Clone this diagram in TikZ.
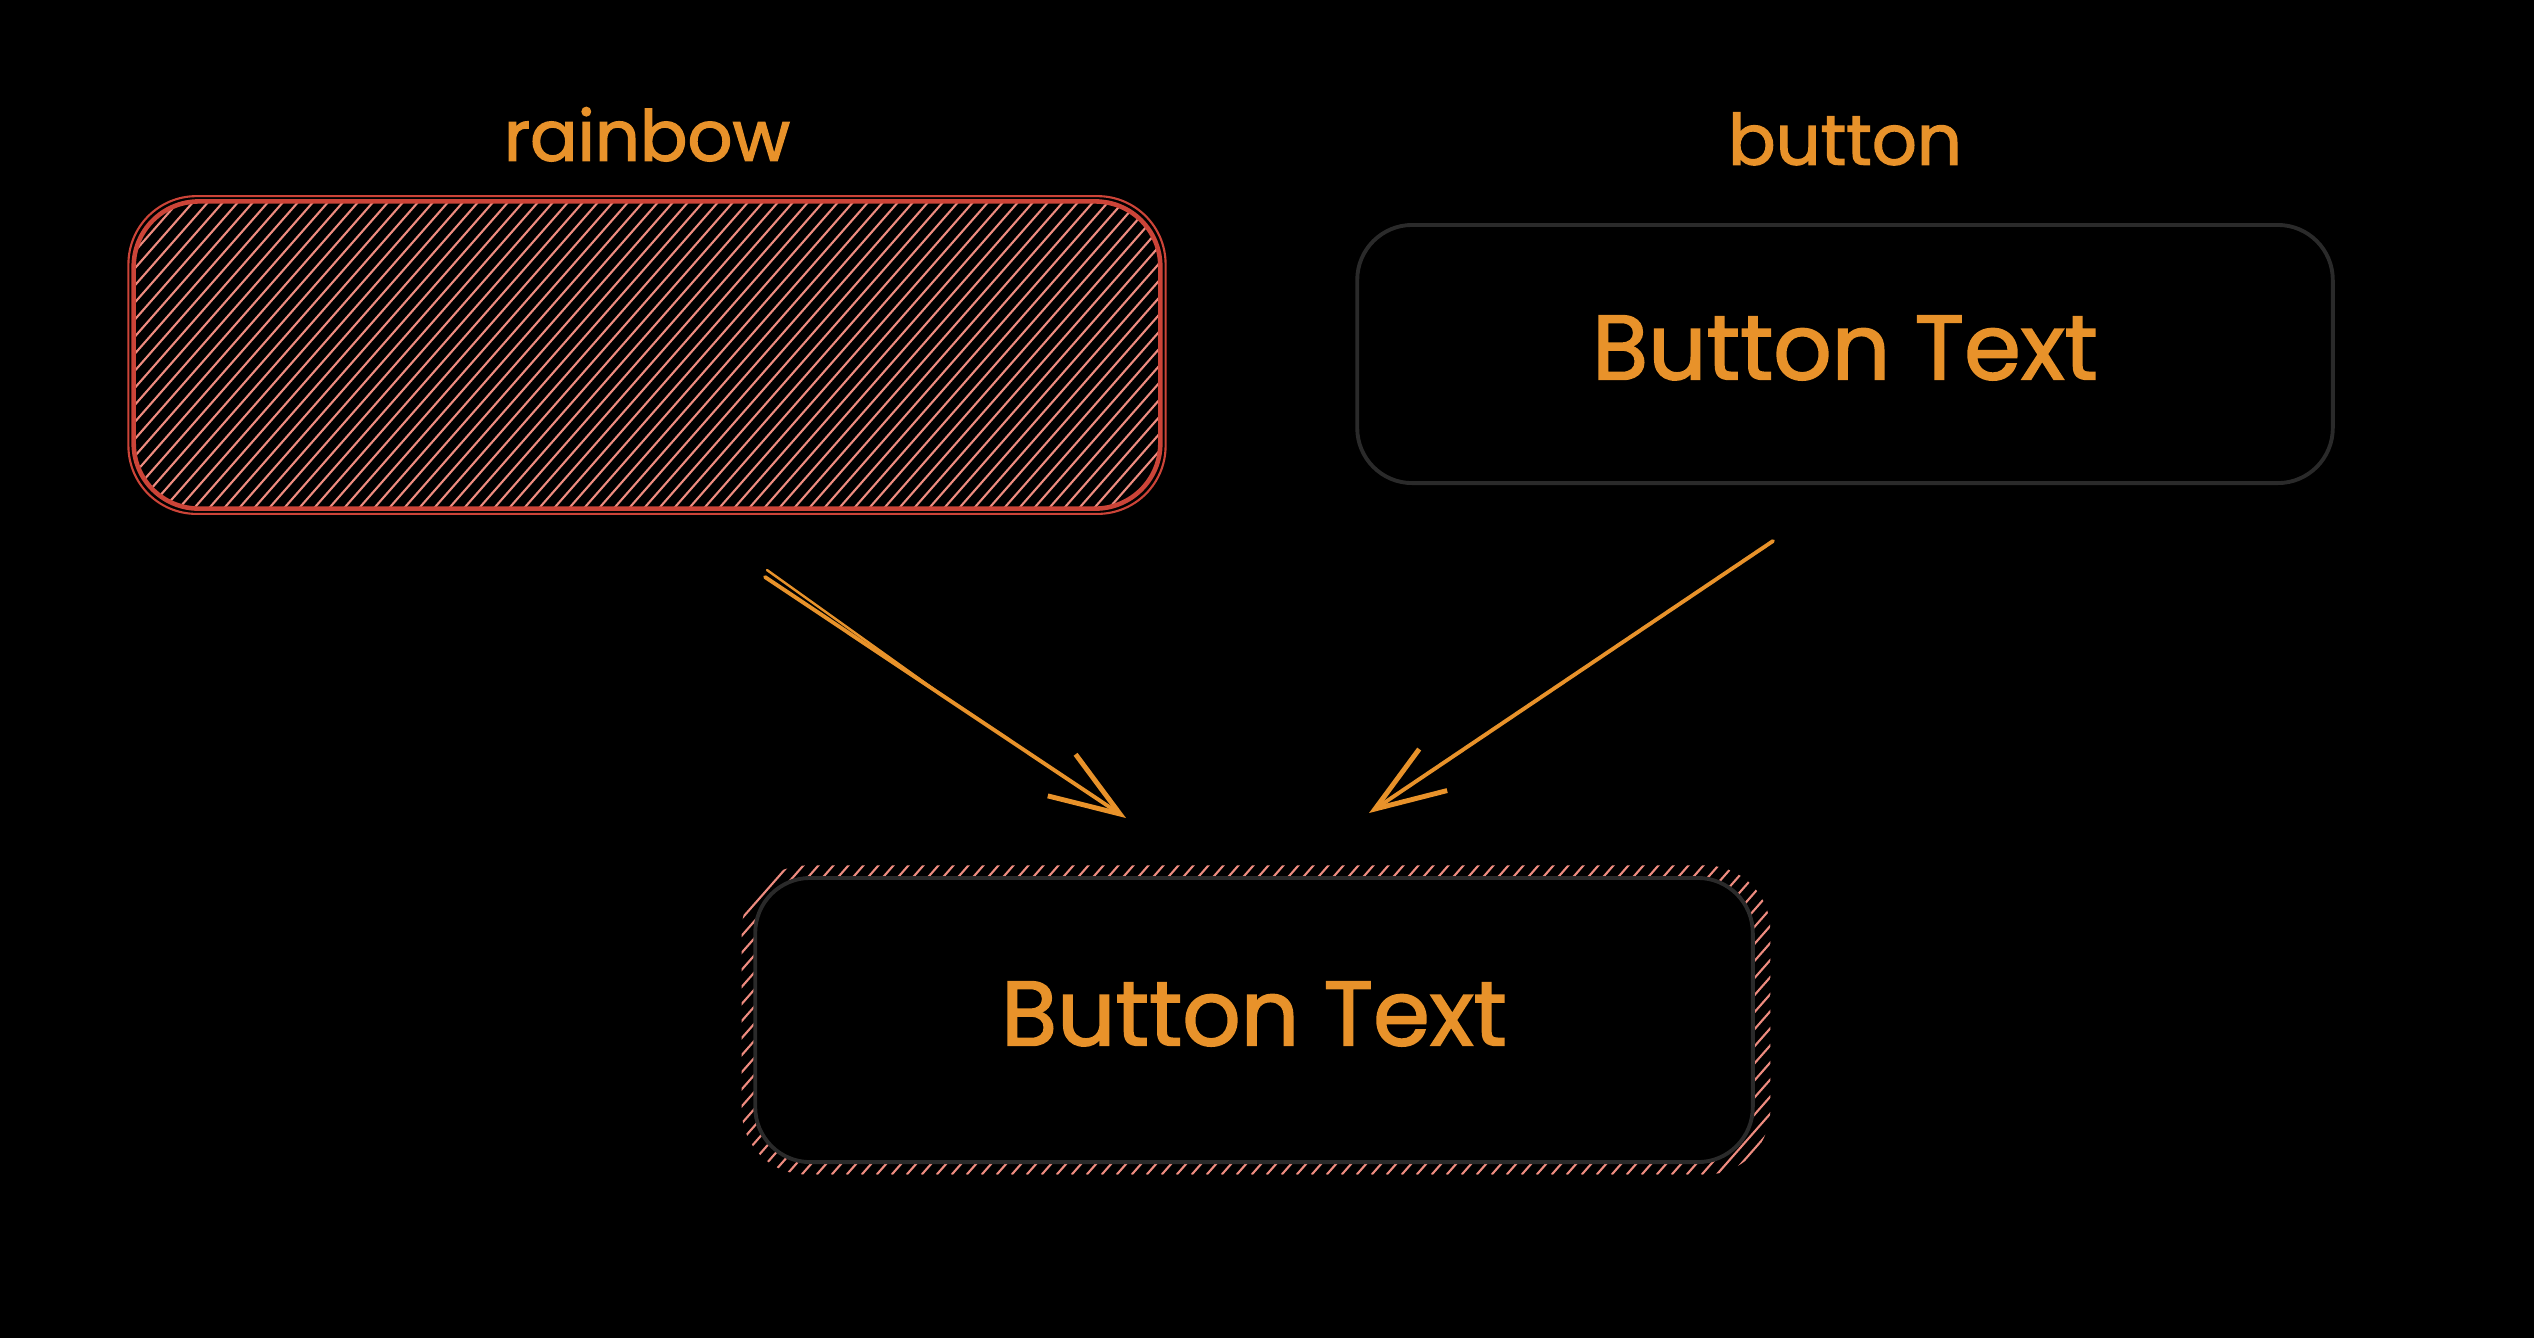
\documentclass[tikz,border=0pt]{standalone}
\usepackage{fontspec}
\setmainfont{Poppins}
\newfontfamily\sketchfont{Poppins}[FakeBold=1.8]
\usetikzlibrary{arrows.meta,positioning}

\definecolor{sketchorange}{RGB}{232,146,42}
\definecolor{rainbowred}{RGB}{204,68,56}
\definecolor{hatchpink}{RGB}{238,140,128}
\definecolor{boxgray}{RGB}{42,42,42}

\begin{document}
\begin{tikzpicture}[
    x=0.01cm, y=-0.01cm,
    titletext/.style={
      text=sketchorange,
      inner sep=0pt,
      font=\sketchfont\fontsize{20}{24}\selectfont
    },
    btnbox/.style={
      rectangle,
      draw=boxgray,
      line width=1.1pt,
      fill=black,
      rounded corners=0.55cm,
      text=sketchorange,
      text depth=0.13cm,
      font=\sketchfont\fontsize{26}{32}\selectfont
    },
    hatched/.style={
      rectangle,
      rounded corners=0.65cm,
      path picture={
        \foreach \hx in {-330,-315,...,1040}
          \draw[hatchpink, line width=0.6pt]
            (path picture bounding box.south west) ++(\hx,0) -- ++(290,-330);
      }
    },
    sketcharrow/.style={
      draw=sketchorange,
      line width=1.1pt,
      line cap=round,
      -{Straight Barb[length=0.7cm,width=0.5cm,line width=1.4pt]}
    }
]

% background and page size
\fill[black] (0,0) rectangle (2534,1338);

% rainbow box
\node[hatched, draw=rainbowred, line width=1.3pt,
      minimum width=10.26cm, minimum height=3.07cm] (rainbow) at (647,355) {};
\draw[rainbowred, line width=0.6pt, rounded corners=0.68cm]
  ([shift={(-3,3)}]rainbow.south west) rectangle ([shift={(3,-3)}]rainbow.north east);
\node[titletext, above=0.37cm of rainbow] (rainbowlbl) {rainbow};

% button box
\node[btnbox, minimum width=9.75cm, minimum height=2.58cm] (button) at (1845,354) {Button Text};
\node[titletext, above=0.57cm of button] (buttonlbl) {button};

% result: button with rainbow border
\node[hatched, minimum width=10.28cm, minimum height=3.09cm] (glow) at (1256,1020) {};
\node[btnbox, minimum width=9.97cm, minimum height=2.84cm] (result) at (1254,1020) {Button Text};

% arrows
\coordinate (a1start) at (765,577);
\coordinate (a1trail) at (767,570);
\coordinate (a1mid) at (935,690);
\coordinate (a1end) at (1126,818);
\coordinate (a2start) at (1773,541);
\coordinate (a2end) at (1369,813);

\draw[sketcharrow] (a1start) -- (a1end);
\draw[draw=sketchorange, line width=0.7pt, line cap=round] (a1trail) -- (a1mid);
\draw[sketcharrow] (a2start) -- (a2end);

\end{tikzpicture}
\end{document}
